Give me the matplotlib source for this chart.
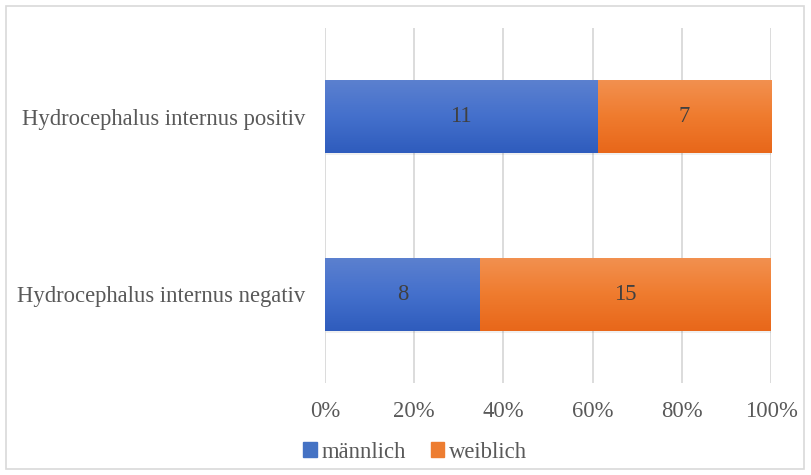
import matplotlib.pyplot as plt
import numpy as np
import matplotlib.patches as mpatches
from matplotlib.colors import LinearSegmentedColormap

categories = ['Hydrocephalus internus negativ', 'Hydrocephalus internus positiv']
maennlich = [8, 11]
weiblich = [15, 7]
series_names = ['männlich', 'weiblich']

plt.rcParams['font.family'] = ['Liberation Serif', 'DejaVu Serif']
grey = '#595959'
fs = 16.3

fig = plt.figure(figsize=(8.11, 4.75), dpi=100)
ax = fig.add_axes([325/811, 1 - 383/475, 446/811, 355/475])

m = np.array(maennlich, dtype=float)
w = np.array(weiblich, dtype=float)
tot = m + w
pm = m / tot * 100
pw = w / tot * 100
y = np.arange(len(categories))
h = 0.41

blue_cm = LinearSegmentedColormap.from_list('b', ['#2F5CBD', '#4470CC', '#5B80CF'])
orange_cm = LinearSegmentedColormap.from_list('o', ['#E8671A', '#EF7B2E', '#F2904F'])
grad = np.linspace(0, 1, 64).reshape(-1, 1)

def gradient_bars(rects, cmap):
    for r in rects:
        x0, y0 = r.get_x(), r.get_y()
        # faint shadow under the bar
        sh = mpatches.Rectangle((x0 + 0.2, y0 - 0.012), r.get_width(), r.get_height(),
                                color='#000000', alpha=0.06, lw=0, zorder=1.5)
        ax.add_patch(sh)
        im = ax.imshow(grad, cmap=cmap, aspect='auto', origin='lower',
                       extent=(x0, x0 + r.get_width(), y0, y0 + r.get_height()),
                       zorder=2)
        im.set_clip_path(r)

b1 = ax.barh(y, pm, h, color='#4472C4', lw=0, zorder=2)
b2 = ax.barh(y, pw, h, left=pm, color='#ED7D31', lw=0, zorder=2)
gradient_bars(b1, blue_cm)
gradient_bars(b2, orange_cm)

for i in range(len(y)):
    ax.text(pm[i] / 2, y[i], '%d' % m[i], ha='center', va='center',
            fontsize=fs, color='#404040', zorder=3)
    ax.text(pm[i] + pw[i] / 2, y[i], '%d' % w[i], ha='center', va='center',
            fontsize=fs, color='#404040', zorder=3)

ax.set_xlim(0, 100)
ax.set_ylim(-0.5, 1.5)
ax.set_xticks(np.arange(0, 101, 20))
ax.set_xticklabels(['%d%%' % v for v in range(0, 101, 20)])
ax.set_yticks(y)
ax.set_yticklabels(categories)
ax.tick_params(axis='both', length=0, labelsize=fs, colors=grey)
ax.tick_params(axis='x', pad=13)
ax.tick_params(axis='y', pad=14)
for s in ax.spines.values():
    s.set_visible(False)
ax.set_axisbelow(True)
ax.xaxis.grid(True, color='#D9D9D9', lw=1.3)

handles = [mpatches.Patch(color='#4472C4', label=series_names[0]),
           mpatches.Patch(color='#ED7D31', label=series_names[1])]
leg = fig.legend(handles=handles, loc='center', bbox_to_anchor=(0.512, 1 - 452/475),
                 ncol=2, frameon=False, fontsize=fs, handlelength=0.6,
                 handleheight=0.6, handletextpad=0.2, columnspacing=1.1)
for t in leg.get_texts():
    t.set_color(grey)

border = mpatches.Rectangle((6/811, 6/475), 798/811, 463/475, transform=fig.transFigure,
                            fill=False, edgecolor='#D9D9D9', lw=1.2)
fig.patches.append(border)

fig.savefig('out.png', dpi=100)
